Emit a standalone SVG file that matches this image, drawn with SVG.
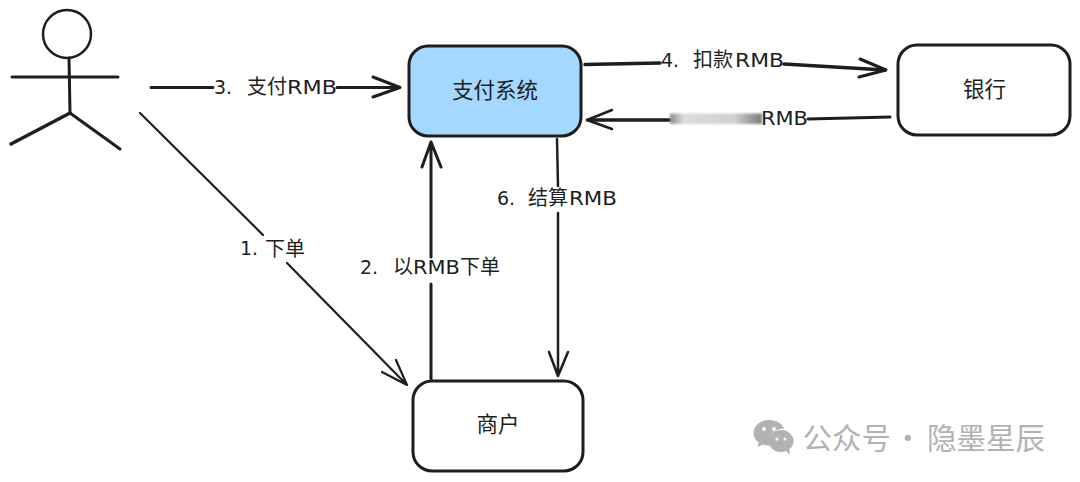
<svg xmlns="http://www.w3.org/2000/svg" width="1080" height="482" viewBox="0 0 1080 482">
<defs>
<linearGradient id="blurFade" x1="0" x2="1" y1="0" y2="0">
<stop offset="0" stop-color="#8c8c8c"/><stop offset="0.15" stop-color="#dcdcdc"/><stop offset="0.7" stop-color="#d0d0d0"/><stop offset="1" stop-color="#7a7a7a"/>
</linearGradient>
<filter id="soft" x="-5%" y="-30%" width="110%" height="160%"><feGaussianBlur stdDeviation="0.9"/></filter>
</defs>
<style>
.box{stroke:#1e1e1e;stroke-width:3;fill:#fff}
.line{stroke:#1e1e1e;fill:none;stroke-linecap:round;stroke-linejoin:round}
.label{font-family:"Noto Sans CJK SC",sans-serif;font-size:20px;fill:#1e1e1e}
.latin{font-family:"DejaVu Sans",sans-serif;font-size:19px;fill:#1e1e1e}
.node{font-family:"Noto Sans CJK SC",sans-serif;font-size:21.500px;fill:#1e1e1e;text-anchor:middle}
.mark{font-family:"Noto Sans CJK SC",sans-serif;font-size:29.500px;fill:#b2b2b2}
</style>
<rect width="1080" height="482" fill="#fff"/>
<g id="connectors">
<path class="line" stroke-width="3" d="M151 87.500H213M337 87.500H400M373 77L400 87.500L373 97"/>
<path class="line" stroke-width="3.500" d="M585 64.500L660 63M784 64L885 70"/>
<path class="line" stroke-width="3" d="M860 59L886 70L859 77"/>
<path class="line" stroke-width="3.500" d="M670 120H588"/>
<path class="line" stroke-width="2.500" d="M612 110L587 120L612 129"/>
<path class="line" stroke-width="3" d="M808 119L890 117"/>
<path class="line" stroke-width="2.200" d="M140 113L263 235"/>
<path class="line" stroke-width="2.200" d="M287 263L407 385M396 360L407 385L382 372"/>
<path class="line" stroke-width="3" d="M431 379V284M431 257V142M422 167L431 142L441 167"/>
<path class="line" stroke-width="2.500" d="M557 139L558 186M558 213L558 376M549 352L558 376L568 352"/>
</g>
<rect id="blur" x="670" y="113.500" width="92" height="10.500" fill="url(#blurFade)" filter="url(#soft)"/>
<g id="person">
<circle class="line" stroke-width="2.500" cx="67" cy="34" r="24"/>
<path class="line" stroke-width="3" d="M69 58L70 113M12 77H118"/>
<path class="line" stroke-width="3.500" d="M70 113L11 144"/>
<path class="line" stroke-width="3" d="M70 113L120 149"/>
</g>
<g id="payment">
<rect x="409" y="46" width="172" height="90" rx="19" stroke="#1e1e1e" stroke-width="3" fill="#a5d8ff"/>
<text class="node" x="495" y="97.500">支付系统</text>
</g>
<g id="bank">
<rect class="box" x="898" y="45" width="172" height="90" rx="19"/>
<text class="node" x="984.500" y="96.500">银行</text>
</g>
<g id="merchant">
<rect class="box" x="413" y="381" width="170" height="90" rx="19"/>
<text class="node" x="498" y="432">商户</text>
</g>
<g id="labels">
<text class="latin" x="214" y="94">3.</text><text class="label" x="247" y="94">支付</text><text class="latin" x="287" y="94" textLength="50" lengthAdjust="spacingAndGlyphs">RMB</text>
<text class="latin" x="661" y="67">4.</text><text class="label" x="693" y="67">扣款</text><text class="latin" x="735" y="67" textLength="49" lengthAdjust="spacingAndGlyphs">RMB</text>
<text class="latin" x="761" y="125" textLength="47" lengthAdjust="spacingAndGlyphs">RMB</text>
<text class="latin" x="497" y="205">6.</text><text class="label" x="528" y="205">结算</text><text class="latin" x="569" y="205" textLength="48" lengthAdjust="spacingAndGlyphs">RMB</text>
<text class="latin" x="360" y="274">2.</text><text class="label" x="393" y="274">以</text><text class="latin" x="413" y="274" textLength="47" lengthAdjust="spacingAndGlyphs">RMB</text><text class="label" x="460" y="274">下单</text>
<text class="latin" x="240" y="255">1.</text><text class="label" x="265" y="255.500">下单</text>
</g>
<g id="watermark">
<path d="M769 420c-8.500 0-15.500 5.700-15.500 13 0 4 2 7.300 5.300 9.700l-1.300 4.300 5-2.500c2 .6 4 .9 6 .9h1.500c-.6-1.600-.9-3.100-.9-4.700 0-6.700 6.300-12 14-12h1c-1.700-5-7.700-8.700-15.100-8.700z" fill="#b2b2b2"/>
<ellipse cx="781" cy="441" rx="12.500" ry="11" fill="#b2b2b2"/>
<path d="M785 450l5 5-1-7z" fill="#b2b2b2"/>
<circle cx="764" cy="429" r="1.900" fill="#fff"/><circle cx="774" cy="429" r="1.900" fill="#fff"/>
<circle cx="777" cy="439" r="1.500" fill="#fff"/><circle cx="785" cy="439" r="1.500" fill="#fff"/>
<text class="mark" x="802.500" y="449">公众号</text>
<text class="mark" x="893" y="449">·</text>
<text class="mark" x="927" y="449">隐墨星辰</text>
</g>
</svg>
